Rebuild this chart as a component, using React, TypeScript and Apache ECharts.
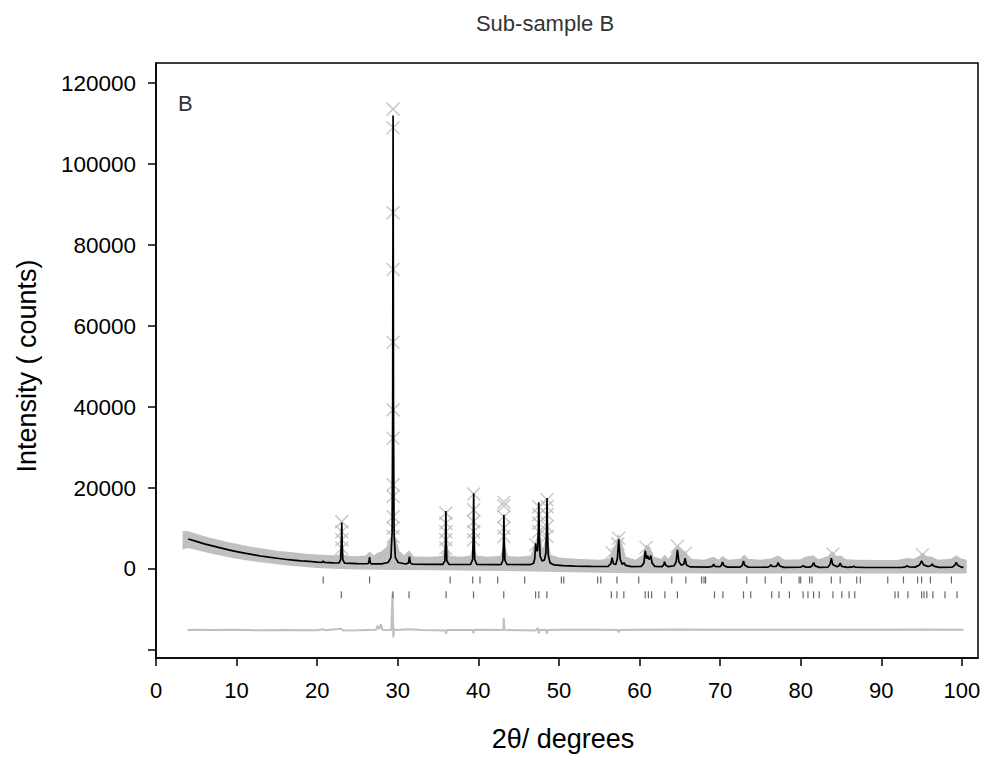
import { useEffect, useRef } from 'react'
import * as echarts from 'echarts'

// Rietveld plot, sub-sample B: observed points (grey), calculated profile (black),
// reflection markers for two phases and the difference curve below.

const xTicks = [0, 10, 20, 30, 40, 50, 60, 70, 80, 90, 100]
const yTicks = [-20000, 0, 20000, 40000, 60000, 80000, 100000, 120000]
const yLabels = [0, 20000, 40000, 60000, 80000, 100000, 120000]

// observed band: upper and lower envelope of the grey points
const obsUpper: number[][] = [
  [3.3, 9400], [4, 9300], [5, 8700], [6, 8100], [7, 7600], [8, 7100], [9, 6600], [10, 6200],
  [11, 5800], [12, 5400], [13, 5100], [14, 4800], [15, 4500], [16, 4300], [17, 4100], [18, 3900],
  [19, 3700], [20, 3550], [21, 3450], [22, 3400], [22.7, 3500], [23.0, 5500], [23.3, 3500],
  [24, 3200], [25, 3150], [26, 3300], [26.5, 4300], [27, 3300], [27.5, 4000], [28, 4400],
  [28.6, 5500], [29.0, 7500], [29.4, 9000], [29.8, 7500], [30.2, 4500], [30.8, 3400], [31.4, 4600],
  [32, 3100], [34, 3000], [35.5, 3200], [36, 6500], [36.5, 3200], [38, 3000], [39, 3300],
  [39.4, 6500], [39.8, 3300], [41, 3000], [42.7, 3200], [43.2, 6500], [43.7, 3200], [45, 3000],
  [46.5, 3300], [47.1, 7000], [47.5, 9000], [48, 5000], [48.5, 9000], [49, 3500], [50, 2800],
  [52, 2500], [55, 2300], [56.2, 2500], [56.6, 4500], [57, 6000], [57.4, 8700], [57.9, 6000],
  [58.3, 3000], [59.5, 2300], [60.4, 3500], [60.8, 6000], [61.3, 5500], [61.8, 3000], [62.7, 2500],
  [63.1, 3500], [63.6, 2500], [64.2, 4500], [64.7, 6000], [65.2, 4500], [65.7, 4400], [66.2, 2500],
  [68, 2300], [69.2, 3000], [69.8, 2300], [70.3, 3200], [71, 2300], [72.5, 2500], [73, 3600],
  [73.5, 2500], [75, 2300], [76.3, 2600], [77.2, 3300], [78, 2300], [80, 2400], [80.5, 3000],
  [81.6, 3300], [82.2, 2400], [83.4, 3200], [83.9, 4400], [84.4, 3200], [85, 3300], [85.6, 2400],
  [87, 2300], [90, 2200], [92, 2200], [93.2, 2700], [94, 2500], [94.7, 3200], [95.1, 4000],
  [95.6, 3200], [96.3, 3000], [97, 2300], [98.6, 2500], [99.3, 3300], [100, 2500], [100.6, 2300],
]
const obsLower: number[][] = [
  [3.3, 4800], [4, 5200], [5, 4700], [6, 4200], [7, 3700], [8, 3300], [9, 2900], [10, 2550],
  [12, 1900], [14, 1400], [16, 900], [18, 550], [20, 250], [22, 50], [25, -150], [30, -250],
  [35, -350], [40, -450], [45, -550], [50, -750], [55, -950], [60, -1050], [70, -1100],
  [80, -1150], [90, -1150], [100, -1150], [100.6, -1150],
]

// observed points drawn as crosses on the peak flanks
const obsMarks: number[][] = [
  [23.05, 11700], [23.05, 9200], [23.05, 7200], [23.05, 5100],
  [29.42, 113600], [29.42, 109000], [29.42, 88000], [29.42, 74000], [29.42, 56000],
  [29.42, 39300], [29.42, 32300], [29.42, 20800], [29.42, 17900], [29.42, 12900],
  [29.42, 10100], [29.42, 8000],
  [35.97, 13800], [35.97, 11300], [35.97, 9200], [35.97, 7200], [35.97, 5100],
  [39.42, 18500], [39.42, 14600], [39.42, 11700], [39.42, 9200], [39.42, 7200],
  [43.17, 16500], [43.17, 15600], [43.17, 12900], [43.17, 10100], [43.17, 8000],
  [47.12, 6000], [47.5, 15400], [47.5, 13400], [47.5, 11300], [47.5, 9200],
  [48.52, 17100], [48.52, 15400], [48.52, 13400], [48.52, 10500], [48.52, 8000],
  [56.6, 4000], [57.3, 6200], [57.42, 7600], [60.8, 5300], [64.7, 5600], [65.7, 3900],
  [84.0, 3700], [95.1, 3500],
]

// calculated profile
const calcCurve: number[][] = [
  [4.0, 7400], [5, 6800], [6, 6200], [7, 5700], [8, 5200], [9, 4700], [10, 4300], [11, 3900],
  [12, 3550], [13, 3200], [14, 2900], [15, 2650], [16, 2400], [17, 2200], [18, 2000], [19, 1850],
  [20, 1700], [20.6, 1640], [20.75, 1950], [20.9, 1620], [22, 1500], [22.7, 1470], [22.92, 2300],
  [23.0, 6500], [23.05, 11500], [23.1, 6500], [23.18, 2300], [23.4, 1450], [25, 1330],
  [26.3, 1280], [26.42, 1700], [26.5, 2900], [26.58, 1700], [26.7, 1270], [28, 1250],
  [28.8, 1600], [29.15, 2800], [29.3, 9000], [29.37, 40000], [29.42, 112000], [29.47, 40000],
  [29.54, 9000], [29.7, 2800], [30.05, 1600], [31, 1220], [31.33, 1500], [31.45, 3050],
  [31.57, 1500], [31.8, 1200], [34, 1150], [35.6, 1150], [35.85, 2000], [35.92, 7000],
  [35.97, 14300], [36.02, 7000], [36.09, 2000], [36.35, 1150], [38.5, 1100], [39.05, 1150],
  [39.3, 2400], [39.37, 9000], [39.42, 18700], [39.47, 9000], [39.54, 2400], [39.8, 1150],
  [42.5, 1050], [42.85, 1150], [43.05, 2200], [43.12, 7000], [43.17, 13400], [43.22, 7000],
  [43.29, 2200], [43.55, 1100], [46.4, 1050], [46.85, 1400], [47.0, 2600], [47.08, 5500],
  [47.12, 6300], [47.2, 4500], [47.36, 4500], [47.45, 10000], [47.5, 16500], [47.55, 10000],
  [47.66, 3200], [47.9, 2000], [48.2, 2200], [48.38, 4000], [48.47, 10500], [48.52, 17500],
  [48.57, 10500], [48.66, 3500], [48.9, 1500], [49.4, 1000], [50.5, 800], [52, 700], [54, 620],
  [55.5, 600], [56.1, 650], [56.45, 1300], [56.6, 2800], [56.75, 1300], [57.05, 1100],
  [57.25, 2500], [57.42, 7350], [57.59, 2500], [57.85, 1100], [58.0, 1400], [58.1, 1500],
  [58.25, 900], [59, 560], [60.2, 600], [60.55, 1500], [60.7, 4500], [60.88, 2500], [61.0, 3300],
  [61.15, 2400], [61.3, 2600], [61.4, 3300], [61.55, 1500], [61.9, 600], [62.8, 560], [63.0, 1000],
  [63.1, 1800], [63.25, 900], [63.6, 560], [64.3, 800], [64.55, 1800], [64.7, 4700], [64.88, 1800],
  [65.2, 900], [65.5, 1200], [65.65, 2650], [65.82, 1000], [66.3, 500], [68.5, 450], [69.05, 650],
  [69.2, 1200], [69.35, 650], [70.0, 550], [70.15, 900], [70.3, 1700], [70.45, 850], [70.9, 450],
  [72.5, 450], [72.75, 900], [72.9, 2000], [73.05, 900], [73.5, 450], [75.9, 420], [76.15, 650],
  [76.3, 1000], [76.45, 650], [76.9, 600], [77.05, 850], [77.2, 1550], [77.38, 750], [77.9, 400],
  [80.0, 420], [80.2, 650], [80.35, 800], [80.55, 450], [81.2, 450], [81.45, 850], [81.6, 1600],
  [81.78, 750], [82.3, 400], [83.4, 450], [83.65, 1200], [83.8, 2650], [83.97, 1100], [84.5, 550],
  [84.75, 800], [84.9, 1450], [85.08, 650], [85.8, 380], [86.45, 500], [86.6, 700], [86.75, 450],
  [88, 360], [92.5, 360], [93.0, 500], [93.2, 800], [93.4, 500], [94.2, 450], [94.75, 1000],
  [95.0, 2000], [95.25, 1000], [95.8, 600], [96.15, 800], [96.3, 1250], [96.5, 700], [97.2, 400],
  [98.8, 450], [99.1, 900], [99.3, 1600], [99.5, 900], [99.9, 450], [100.2, 380],
]

// reflection positions (2theta) of the two phases
const phase1Ticks = [
  20.75, 26.5, 36.5, 39.3, 40.2, 42.4, 45.75, 50.3, 50.6, 54.8, 55.2, 57.2, 59.9, 64.0, 65.75,
  67.7, 68.0, 68.2, 73.3, 75.6, 77.6, 79.8, 80.0, 81.1, 81.4, 83.8, 84.9, 86.95, 87.4, 90.8,
  92.75, 94.5, 95.0, 96.1, 98.7,
]
const phase2Ticks = [
  23.0, 29.4, 31.4, 36.0, 39.4, 43.15, 47.1, 47.5, 48.5, 56.5, 57.2, 58.05, 60.7, 61.1, 61.5,
  63.15, 64.7, 69.3, 70.35, 72.9, 73.8, 76.4, 77.3, 78.6, 80.3, 80.9, 81.6, 82.3, 84.0, 85.1,
  86.0, 86.7, 91.7, 92.1, 93.3, 95.0, 95.3, 95.65, 96.4, 97.9, 99.4,
]

// observed minus calculated, shown offset below zero
const diffCurve: number[][] = [
  [3.9, -15100], [5, -15000], [7, -15100], [10, -15050], [13, -15150], [16, -15100],
  [20, -15150], [20.8, -14900], [21, -15150], [23, -14800], [23.2, -15200], [25, -15150],
  [27.3, -15050], [27.5, -14000], [27.7, -14900], [27.9, -13600], [28.1, -15000], [29.2, -15100],
  [29.35, -6000], [29.45, -16900], [29.55, -14800], [29.7, -15100], [31.4, -14900], [33, -15100],
  [35.9, -15200], [36.0, -16000], [36.1, -15100], [39.3, -15100], [39.4, -15900], [39.5, -15000],
  [43.1, -15100], [43.15, -12100], [43.25, -15100], [47.1, -15200], [47.4, -14600],
  [47.5, -15900], [47.6, -15100], [48.4, -15000], [48.5, -16000], [48.6, -15100], [50, -15050],
  [55, -15000], [57.3, -15100], [57.4, -15700], [57.5, -15100], [60, -15000], [65, -14950],
  [70, -15000], [75, -15000], [80, -15050], [85, -15000], [90, -15000], [95, -14950],
  [100.2, -15000],
]

const FONT = '"Liberation Sans", Arial, sans-serif'
const GREY = '#c0c0c0'

export default function App() {
  const ref = useRef<HTMLDivElement>(null)

  useEffect(() => {
    document.body.style.margin = '0'
    if (!ref.current) return
    const chart = echarts.init(ref.current, undefined, { renderer: 'svg' })

    chart.setOption({
      animation: false,
      textStyle: { fontFamily: FONT },
      grid: { left: 156, top: 63, width: 822, height: 595, show: true, borderColor: '#000', borderWidth: 1.5 },
      xAxis: {
        type: 'value', min: 0, max: 102,
        axisLine: { onZero: false, lineStyle: { color: '#000', width: 1.5 } },
        axisTick: { length: 8, customValues: xTicks, lineStyle: { color: '#000', width: 1.5 } },
        axisLabel: { customValues: xTicks, fontSize: 22, color: '#000', margin: 21, fontFamily: FONT },
        splitLine: { show: false },
      },
      yAxis: {
        type: 'value', min: -22000, max: 125000,
        axisLine: { show: true, onZero: false, lineStyle: { color: '#000', width: 1.5 } },
        axisTick: { show: true, length: 8, customValues: yTicks, lineStyle: { color: '#000', width: 1.5 } },
        axisLabel: {
          customValues: yLabels, fontSize: 22.5, color: '#000', margin: 20, fontFamily: FONT,
          formatter: (v: number) => String(v),
        },
        splitLine: { show: false },
      },
      graphic: [
        { type: 'text', x: 545, y: 23, style: { text: 'Sub-sample B', fontSize: 22, fill: '#333', fontFamily: FONT, textAlign: 'center', textVerticalAlign: 'middle' } },
        { type: 'text', x: 178, y: 103, style: { text: 'B', fontSize: 22, fill: '#333', fontFamily: FONT, textAlign: 'left', textVerticalAlign: 'middle' } },
        { type: 'text', x: 27, y: 366, rotation: Math.PI / 2, style: { text: 'Intensity ( counts)', fontSize: 27, fill: '#000', fontFamily: FONT, textAlign: 'center', textVerticalAlign: 'middle' } },
        { type: 'text', x: 563, y: 739, style: { text: '2θ/ degrees', fontSize: 27, fill: '#000', fontFamily: FONT, textAlign: 'center', textVerticalAlign: 'middle' } },
      ],
      series: [
        {
          type: 'custom',
          name: 'observed band',
          silent: true,
          z: 1,
          data: obsUpper,
          renderItem: (params: any, api: any) => {
            if (params.dataIndex !== 0) return null
            const pts = [...obsUpper, ...[...obsLower].reverse()].map((p) => api.coord(p))
            return { type: 'polygon', shape: { points: pts }, style: { fill: GREY } }
          },
        },
        {
          type: 'scatter',
          name: 'observed',
          z: 2,
          symbol: 'path://M0,0L12,12M12,0L0,12',
          symbolSize: 13,
          itemStyle: { color: 'rgba(0,0,0,0)', borderColor: '#bdbdbd', borderWidth: 1.5 },
          data: obsMarks,
        },
        {
          type: 'line',
          name: 'difference',
          z: 2,
          showSymbol: false,
          lineStyle: { color: GREY, width: 2 },
          data: diffCurve,
        },
        {
          type: 'scatter',
          name: 'phase 1',
          z: 2,
          symbol: 'rect',
          symbolSize: [1.2, 7],
          itemStyle: { color: '#444' },
          data: phase1Ticks.map((x) => [x, -2700]),
        },
        {
          type: 'scatter',
          name: 'phase 2',
          z: 2,
          symbol: 'rect',
          symbolSize: [1.2, 7],
          itemStyle: { color: '#444' },
          data: phase2Ticks.map((x) => [x, -6400]),
        },
        {
          type: 'line',
          name: 'calculated',
          z: 3,
          showSymbol: false,
          lineStyle: { color: '#000', width: 1.7 },
          data: calcCurve,
        },
      ],
    })

    return () => chart.dispose()
  }, [])

  return <div ref={ref} style={{ width: 985, height: 757 }} />
}
